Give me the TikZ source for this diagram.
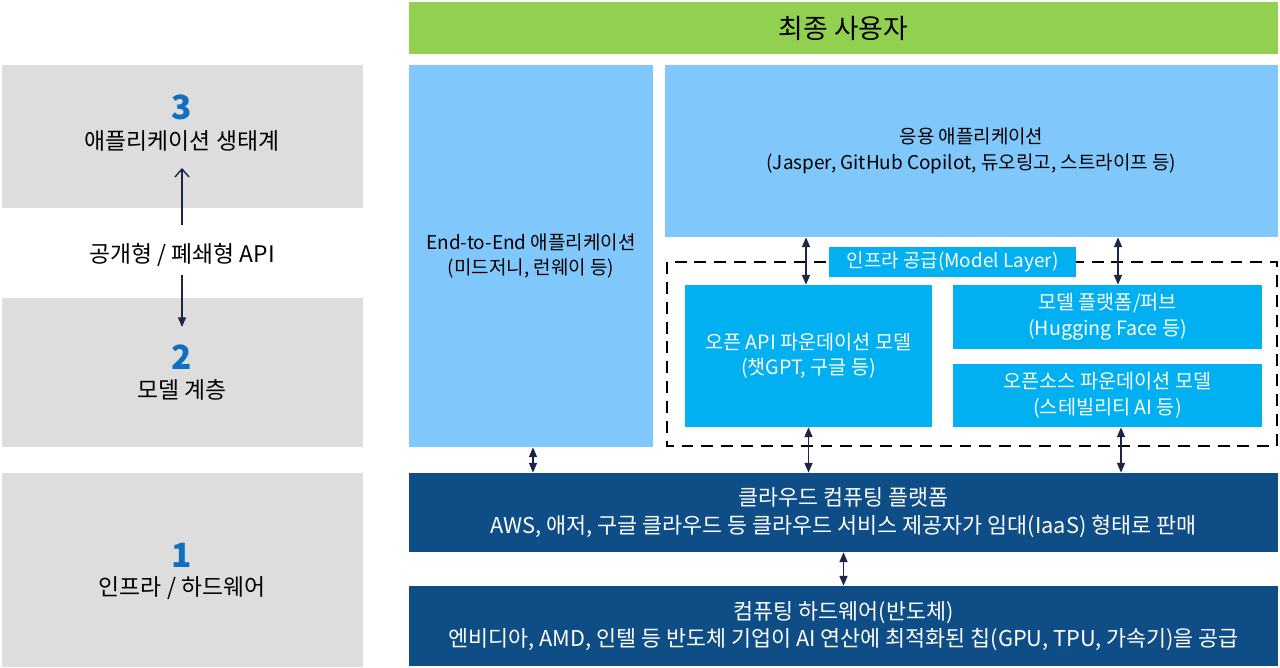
\documentclass[tikz,border=0pt]{standalone}
\usepackage{fontspec}
\setmainfont{Noto Sans CJK KR}
\usetikzlibrary{calc,arrows.meta}
\definecolor{usergreen}{HTML}{92D050}
\definecolor{layergray}{HTML}{DDDDDD}
\definecolor{sky}{HTML}{80C8FC}
\definecolor{cyanbox}{HTML}{00B0F0}
\definecolor{navybox}{HTML}{0E4D86}
\definecolor{arrowc}{HTML}{1B2545}
\definecolor{numblue}{HTML}{1070C0}
\tikzset{
  sz/.style 2 args={minimum width=#1*0.02cm, minimum height=#2*0.02cm},
  txt/.style={font=\fontsize{10.8}{14.5}\selectfont, align=center, inner sep=0pt},
  layer/.style={fill=layergray, inner sep=0pt},
  skybox/.style={txt, fill=sky, text=black},
  cyanb/.style={txt, fill=cyanbox, text=white, font=\fontsize{11.2}{14.5}\selectfont},
  navyb/.style={txt, fill=navybox, text=white, font=\fontsize{12.4}{15.6}\selectfont},
  num/.style={text=numblue, font=\fontsize{19}{19}\selectfont\bfseries, inner sep=0pt},
  lbl/.style={txt, text=black, font=\fontsize{13}{15}\selectfont},
  dbl/.style={draw=arrowc, line width=0.8pt, {Triangle[length=5.5pt,width=4.5pt]}-{Triangle[length=5.5pt,width=4.5pt]}},
  upar/.style={draw=arrowc, line width=0.8pt, -{Straight Barb[length=4.5pt,width=8pt]}},
  downar/.style={draw=arrowc, line width=0.8pt, -{Triangle[length=5.5pt,width=4.5pt]}},
  dashbox/.style={draw=black, line width=1.6pt, dash pattern=on 6.8pt off 4.5pt}
}
\begin{document}
\begin{tikzpicture}[x=0.02cm, y=-0.02cm]
  \useasboundingbox (0,0) rectangle (1280,668);
  \fill[white] (0,0) rectangle (1280,668);

  \node[layer, sz={361}{143}] (L3) at (182.5,136.5) {};
  \node[layer, sz={361}{149}] (L2) at (182.5,372.5) {};
  \node[layer, sz={361}{194}] (L1) at (182.5,570) {};
  \node[num] (n3) at (182,107) {3};
  \node[lbl] (eco) at (182,141) {애플리케이션 생태계};
  \node[lbl] (api) at (182,255) {공개형 / 폐쇄형 API};
  \node[num] (n2) at (182,357) {2};
  \node[lbl] (mdl) at (182,390) {모델 계층};
  \node[num] (n1) at (182,555) {1};
  \node[lbl] (infra) at (182,588) {인프라 / 하드웨어};
  \draw[upar, shorten <=0.6cm, shorten >=0.54cm] (api.center) -- (eco.center);
  \draw[downar, shorten <=0.4cm, shorten >=0.6cm] (api.center) -- (n2.center);

  \node[txt, fill=usergreen, sz={869}{52}, font=\fontsize{15.3}{18}\selectfont] (user) at (843.5,28) {최종 사용자};
  \node[skybox, sz={244}{382}] (e2e) at (531,256) {End-to-End 애플리케이션\\(미드저니, 런웨이 등)};
  \node[skybox, sz={613}{172}] (app) at (971.5,151) {응용 애플리케이션\\(Jasper, GitHub Copilot, 듀오링고, 스트라이프 등)};

  \draw[dashbox] (667,262) rectangle (1277,446);
  \node[cyanb, sz={247}{142}] (opn) at (808.5,356) {오픈 API 파운데이션 모델\\(챗GPT, 구글 등)};
  \node[cyanb, sz={309}{64}] (hub) at (1107.5,317) {모델 플랫폼/퍼브\\(Hugging Face 등)};
  \node[cyanb, sz={309}{63}] (oss) at (1107.5,395.5) {오픈소스 파운데이션 모델\\(스테빌리티 AI 등)};
  \node[cyanb, sz={247}{30}, font=\fontsize{10.8}{14.5}\selectfont] (mlayer) at (952.5,262) {인프라 공급(Model Layer)};

  \node[navyb, sz={869}{79}] (cloud) at (843.5,512.5) {클라우드 컴퓨팅 플랫폼\\AWS, 애저, 구글 클라우드 등 클라우드 서비스 제공자가 임대(IaaS) 형태로 판매};
  \node[navyb, sz={869}{80}] (hw) at (843.5,626) {컴퓨팅 하드웨어(반도체)\\엔비디아, AMD, 인텔 등 반도체 기업이 AI 연산에 최적화된 칩(GPU, TPU, 가속기)을 공급};

  \draw[dbl] ([xshift=-0.05cm]opn.north) -- ([xshift=-0.05cm]opn.north |- app.south);
  \draw[dbl] ([xshift=0.21cm]hub.north) -- ([xshift=0.21cm]hub.north |- app.south);
  \draw[dbl] ([xshift=0.04cm]e2e.south) -- ([xshift=0.04cm]e2e.south |- cloud.north);
  \draw[dbl] (opn.south) -- (opn.south |- cloud.north);
  \draw[dbl] ([xshift=0.27cm]oss.south) -- ([xshift=0.27cm]oss.south |- cloud.north);
  \draw[dbl] (cloud.south) -- (hw.north);
\end{tikzpicture}
\end{document}
